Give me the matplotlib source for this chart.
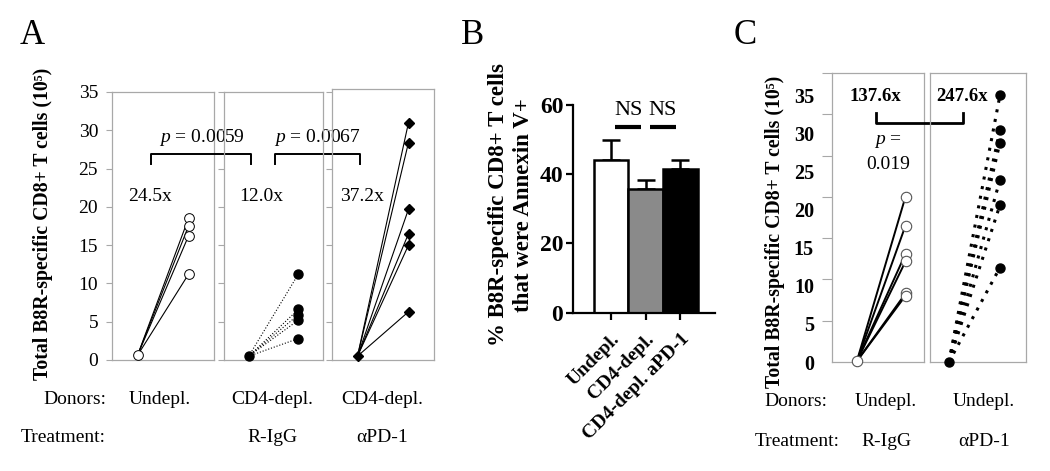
import numpy as np
import matplotlib
matplotlib.use('Agg')
import matplotlib.pyplot as plt
from matplotlib import transforms

plt.rcParams['font.family'] = ['Liberation Serif', 'DejaVu Serif']
plt.rcParams['mathtext.fontset'] = 'custom'
plt.rcParams['mathtext.rm'] = 'Liberation Serif'
plt.rcParams['mathtext.it'] = 'Liberation Serif:italic'
plt.rcParams['mathtext.bf'] = 'Liberation Serif:bold'

# ---- data ----
# panel A: total B8R-specific CD8+ T cells (10^5), day 0 -> expanded
a_donors = ['Undepl.', 'CD4-depl.', 'CD4-depl.']
a_treat = ['', 'R-IgG', '\u03b1PD-1']
a_start = [0.6, 0.5, 0.5]
a_undepl = [18.5, 17.5, 16.2, 11.2]
a_cd4_rigg = [11.2, 6.6, 5.9, 5.2, 2.8]
a_cd4_pd1 = [31.0, 28.4, 19.7, 16.5, 15.0, 6.3]
a_folds = ['24.5x', '12.0x', '37.2x']
a_pvals = ['0.0059', '0.0067']

# panel B: % annexin V+
b_groups = ['Undepl.', 'CD4-depl.', 'CD4-depl. aPD-1']
b_means = [44.0, 35.7, 41.5]
b_sem = [6.0, 2.6, 2.6]
b_colors = ['white', '#8a8a8a', 'black']

# panel C
c_donors = ['Undepl.', 'Undepl.']
c_treat = ['R-IgG', '\u03b1PD-1']
c_start = [0.1, 0.0]
c_rigg = [21.7, 17.9, 14.2, 13.2, 9.0, 8.7]
c_pd1 = [35.0, 30.4, 28.8, 23.9, 20.6, 12.4]
c_folds = ['137.6x', '247.6x']

W, H = 1050, 471
fig = plt.figure(figsize=(W / 100, H / 100), dpi=100)


def box(x0, y0, x1, y1):
    return [x0 / W, 1 - y1 / H, (x1 - x0) / W, (y1 - y0) / H]


def fx(x):
    return x / W


def fy(y):
    return 1 - y / H


gray = '#a8a8a8'


def frame(ax, lw=0.9):
    ax.set_facecolor('none')
    for s in ax.spines.values():
        s.set_color(gray)
        s.set_linewidth(lw)
    ax.set_xticks([])


# ---------------- panel A ----------------
axA = [fig.add_axes(box(112, 92, 214, 360)),
       fig.add_axes(box(224, 92, 323, 360)),
       fig.add_axes(box(332, 89, 434, 360))]
ends_list = [a_undepl, a_cd4_rigg, a_cd4_pd1]
for i, ax in enumerate(axA):
    frame(ax)
    ax.set_xlim(-0.5, 1.5)
    top = 35 if i < 2 else 35 + 3 / 7.657
    ax.set_ylim(0, top)
    ax.set_yticks(np.arange(0, 36, 5))
    ax.tick_params(axis='y', length=4, width=0.8, color=gray, labelsize=14, pad=6)
    if i > 0:
        ax.set_yticklabels([])
    start = a_start[i]
    ends = ends_list[i]
    for v in ends:
        ls = ':' if i == 1 else '-'
        ax.plot([0, 1], [start, v], color='black', lw=0.8, ls=ls, clip_on=False, zorder=2)
    if i == 0:
        mk = dict(marker='o', ms=7, mfc='white', mec='black', mew=0.7)
    elif i == 1:
        mk = dict(marker='o', ms=6.5, mfc='black', mec='black')
    else:
        mk = dict(marker='D', ms=5, mfc='black', mec='black')
    ax.plot([0], [start], ls='none', clip_on=False, zorder=3, **mk)
    ax.plot([1] * len(ends), ends, ls='none', clip_on=False, zorder=3, **mk)

fold_x = [0.245, 0.26, 0.09]
for ax, f, x in zip(axA, a_folds, fold_x):
    ax.text(x, 21.3, f, ha='center', va='center', fontsize=14)

tA = transforms.blended_transform_factory(fig.transFigure, axA[0].transData)
for (x0, x1), p in zip([(151, 251), (275, 360)], a_pvals):
    axA[0].plot([fx(x0), fx(x0), fx(x1), fx(x1)], [25.6, 26.9, 26.9, 25.6],
                color='black', lw=1.4, transform=tA, clip_on=False, zorder=4)
    axA[0].text(fx((x0 + x1) / 2), 29.1, r'$p$ = ' + p, ha='center', va='center',
                fontsize=14, transform=tA)

fig.text(fx(43), fy(224), 'Total B8R-specific CD8+ T cells (10\u2075)', rotation=90,
         ha='center', va='center', fontsize=14.2, fontweight='bold')
fig.text(fx(32), fy(35), 'A', ha='center', va='center', fontsize=25)

fig.text(fx(106), fy(400), 'Donors:', ha='right', va='center', fontsize=14)
fig.text(fx(106), fy(437), 'Treatment:', ha='right', va='center', fontsize=14)
for x, d, t in zip([160, 272, 382], a_donors, a_treat):
    fig.text(fx(x), fy(400), d, ha='center', va='center', fontsize=14)
    fig.text(fx(x), fy(437), t, ha='center', va='center', fontsize=14)

# ---------------- panel B ----------------
axB = fig.add_axes(box(573, 105, 715, 312.7))
axB.set_xlim(-1.1, 3.0)
axB.set_ylim(0, 60)
axB.spines['top'].set_visible(False)
axB.spines['right'].set_visible(False)
axB.spines['left'].set_linewidth(1.6)
axB.spines['bottom'].set_linewidth(1.6)
axB.spines['left'].set_bounds(0, 60)
xb = np.arange(len(b_groups))
axB.bar(xb, b_means, width=1.0, color=b_colors, edgecolor='black', linewidth=1.8, zorder=2)
axB.errorbar(xb, b_means, yerr=[np.zeros(len(b_sem)), b_sem], fmt='none', ecolor='black',
             elinewidth=1.8, capsize=6.5, capthick=1.8, zorder=1)
axB.set_yticks([0, 20, 40, 60])
axB.tick_params(axis='y', length=5, width=1.6, labelsize=17, pad=2)
for lbl in axB.get_yticklabels():
    lbl.set_fontweight('bold')
axB.set_xticks(xb)
axB.set_xticklabels(b_groups, rotation=45, ha='right', rotation_mode='anchor',
                    fontsize=14, fontweight='bold')
axB.tick_params(axis='x', length=5, width=1.6, pad=8)
for x0 in [0, 1]:
    axB.plot([x0 + 0.12, x0 + 0.87], [53.7, 53.7], color='black', lw=3, clip_on=False,
             solid_capstyle='butt')
    axB.text(x0 + 0.5, 58.5, 'NS', ha='center', va='center', fontsize=16)
fig.text(fx(511), fy(205), '% B8R-specific CD8+ T cells\nthat were Annexin V+', rotation=90,
         ha='center', va='center', fontsize=16.5, fontweight='bold', linespacing=1.2)
fig.text(fx(473), fy(35), 'B', ha='center', va='center', fontsize=25)

# ---------------- panel C ----------------
ctop = (362 - 73) / 7.62
axC = [fig.add_axes(box(832, 73, 924, 362)), fig.add_axes(box(930, 73, 1026, 362))]
for ax, xl in zip(axC, [(-0.51, 1.38), (-0.37, 1.51)]):
    frame(ax)
    ax.set_xlim(*xl)
    ax.set_ylim(0, ctop)
    ax.set_yticks([])
axC[0].set_yticks(np.arange(0, 36, 5))
axC[0].tick_params(axis='y', which='major', length=0, labelsize=14.5, pad=13)
for lbl in axC[0].get_yticklabels():
    lbl.set_fontweight('bold')
axC[0].set_yticks(np.linspace(0, ctop, 8), minor=True)
axC[0].tick_params(axis='y', which='minor', length=7, width=0.8, color=gray)

for v in c_rigg:
    axC[0].plot([0, 1], [c_start[0], v], color='black', lw=1.4, clip_on=False, zorder=2)
mk = dict(marker='o', ms=7.5, mfc='white', mec='#555555', mew=0.8, ls='none', clip_on=False, zorder=3)
axC[0].plot([0], [c_start[0]], **mk)
axC[0].plot([1] * len(c_rigg), c_rigg, **mk)
for v in c_pd1:
    axC[1].plot([0, 1], [c_start[1], v], color='black', lw=2.2, ls=(0, (1, 2.2)),
                clip_on=False, zorder=2)
mk = dict(marker='o', ms=6.5, mfc='black', mec='black', ls='none', clip_on=False, zorder=3)
axC[1].plot([0], [c_start[1]], **mk)
axC[1].plot([1] * len(c_pd1), c_pd1, **mk)

tC = transforms.blended_transform_factory(fig.transFigure, axC[0].transData)
axC[0].plot([fx(876), fx(876), fx(963), fx(963)], [32.7, 31.4, 31.4, 32.7], color='black',
            lw=2.0, transform=tC, clip_on=False, zorder=4)
for x, f in zip([875, 962], c_folds):
    axC[0].text(fx(x), 34.8, f, ha='center', va='center', fontsize=13.5, fontweight='bold',
                transform=tC)
axC[0].text(fx(888), 28.9, r'$p$ =', ha='center', va='center', fontsize=14, transform=tC)
axC[0].text(fx(888), 25.9, '0.019', ha='center', va='center', fontsize=14, transform=tC)

fig.text(fx(775), fy(232), 'Total B8R-specific CD8+ T cells (10\u2075)', rotation=90,
         ha='center', va='center', fontsize=14.2, fontweight='bold')
fig.text(fx(745), fy(35), 'C', ha='center', va='center', fontsize=25)

fig.text(fx(827), fy(402), 'Donors:', ha='right', va='center', fontsize=14)
fig.text(fx(840), fy(442), 'Treatment:', ha='right', va='center', fontsize=14)
for x, d, t in zip([886, 984], c_donors, c_treat):
    fig.text(fx(x), fy(402), d, ha='center', va='center', fontsize=14)
    fig.text(fx(x), fy(442), t, ha='center', va='center', fontsize=14)

fig.savefig('out.png', dpi=100)
